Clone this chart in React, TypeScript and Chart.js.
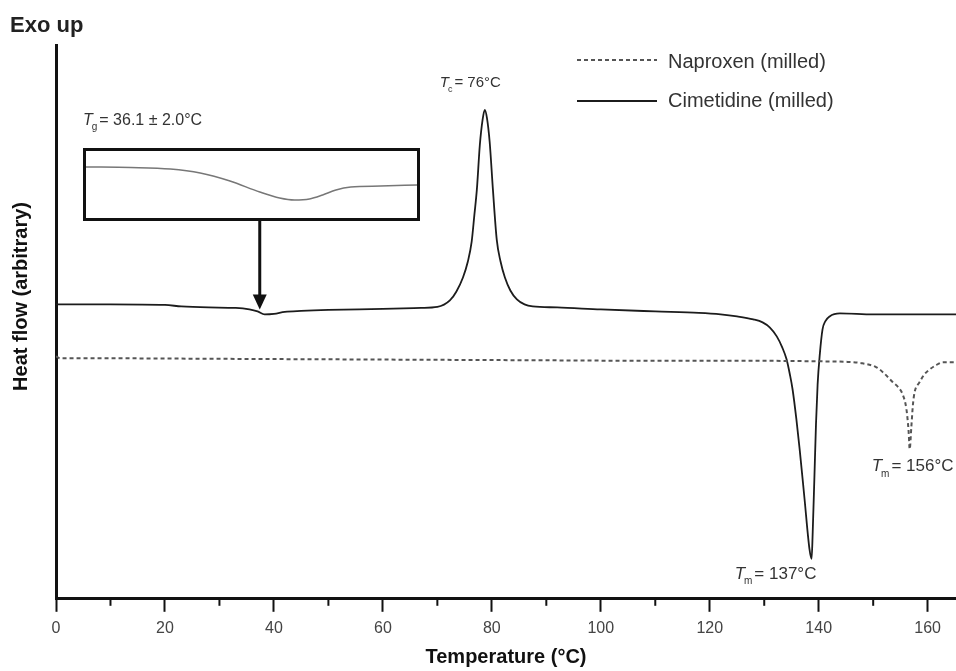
import { useEffect, useRef } from "react";
import { Chart, registerables } from "chart.js";

Chart.register(...registerables);

const FONT = "'Liberation Sans', Arial, Helvetica, sans-serif";

// Temperature axis ticks (°C): every 10 marked, every 20 labelled
const X_TICKS = [0, 10, 20, 30, 40, 50, 60, 70, 80, 90, 100, 110, 120, 130, 140, 150, 160];
const X_LABEL_STEP = 20;
const X_MAX = 165.2;
const Y_MAX = 555;

// Cimetidine (milled) DSC trace — heat flow in arbitrary units
const CIM_TEMP = [
  0, 10, 20, 23, 28, 33, 35.5, 37, 38.3, 40, 42, 45, 50, 60, 67, 70,
  72.3, 73.5, 74.7, 75.6, 76.3, 76.8, 77.25, 77.8, 78.3, 78.7, 79.1, 79.6, 80.2, 80.9, 81.6, 82.4,
  83.4, 84.6, 86, 87.5, 92, 100, 110, 118, 122, 125, 128, 129.7, 131, 132.3, 133.3, 134.1,
  134.7, 135.2, 135.9, 136.5, 137.4, 138.3, 138.7, 138.9, 139.2, 139.5, 139.8, 140.2, 140.7, 141.2,
  142.0, 143.9, 150, 158, 165.2,
];
const CIM_HEAT = [
  295, 295, 294.5, 293, 292, 291.5, 290, 288, 285, 285.5, 287.5, 288.5, 289.5, 290.5, 291.5, 292.5,
  299, 308, 322, 338, 358, 385, 410, 455, 480, 490, 482, 458, 410, 360, 338, 322,
  309, 300, 295, 293, 292, 290, 288, 286.5, 285, 283, 280, 277, 272, 263, 252, 240,
  225, 210, 180, 150, 100, 50, 40, 67, 120, 175, 215, 245, 270, 278,
  283, 286, 285, 285, 285,
];

// Naproxen (milled) DSC trace — heat flow in arbitrary units
const NAP_TEMP = [
  0, 0.8, 10, 30, 50, 70, 90, 110, 130, 140, 145, 148, 150.6, 152, 153.6, 154.6,
  155.4, 156.1, 156.5, 156.7, 157.0, 157.3, 157.6, 158.5, 159.4, 160.4, 161.5, 162.8, 165.2,
];
const NAP_HEAT = [
  243, 241, 241, 240.5, 240, 239.5, 239, 238.5, 238.5, 238, 237.5, 236, 232, 226, 217, 212,
  205, 190, 168, 150, 172, 195, 207, 217, 225, 230, 234, 237, 237,
];

// Enlarged view of the glass transition region of cimetidine
const INSET_TEMP = [30, 32.7, 35.1, 36.9, 38.7, 40.5, 41.7, 42.6, 43.5, 44.3, 45.1, 46.0, 47.8, 50];
const INSET_HEAT = [51, 50.5, 49, 45, 37, 26, 20, 18, 19, 23, 28, 31, 32, 33];

// Event labels
const TG_TEXT = "= 36.1 ± 2.0°C";
const TC_TEMP = 78.7;
const TC_TEXT = "= 76°C";
const TM_CIM_TEMP = 138.7;
const TM_CIM_TEXT = "= 137°C";
const TM_NAP_TEMP = 156.7;
const TM_NAP_TEXT = "= 156°C";
const ARROW_TEMP = 37.4;
const Y_TITLE = "Heat flow (arbitrary)";
const Y_TITLE_LEVEL = 303; // heat-flow level the vertical title is centred on

const INSET_BOX = { left: 83, top: 148, width: 337, height: 73 };

const toPoints = (xs: number[], ys: number[]) => xs.map((x, i) => ({ x, y: ys[i] }));

const heatAt = (temps: number[], heats: number[], t: number) => {
  let best = 0;
  temps.forEach((v, i) => {
    if (Math.abs(v - t) < Math.abs(temps[best] - t)) best = i;
  });
  return heats[best];
};

function drawSymbol(ctx: CanvasRenderingContext2D, x: number, y: number, sub: string, rest: string, size: number) {
  ctx.textAlign = "left";
  ctx.textBaseline = "alphabetic";
  ctx.font = `italic ${size}px ${FONT}`;
  ctx.fillText("T", x, y);
  let cx = x + ctx.measureText("T").width - 1;
  ctx.font = `${Math.round(size * 0.6)}px ${FONT}`;
  ctx.fillText(sub, cx, y + size * 0.32);
  cx += ctx.measureText(sub).width + 2;
  ctx.font = `${size}px ${FONT}`;
  ctx.fillText(rest, cx, y);
}

const annotations = {
  id: "dscAnnotations",
  afterDraw(chart: any) {
    const { ctx, scales, chartArea } = chart;
    const xs = scales.x;
    const ys = scales.y;
    ctx.save();

    // minor ticks on the temperature axis
    ctx.strokeStyle = "#111";
    ctx.lineWidth = 2;
    X_TICKS.filter((v) => v % X_LABEL_STEP !== 0).forEach((v) => {
      const px = xs.getPixelForValue(v);
      ctx.beginPath();
      ctx.moveTo(px, chartArea.bottom);
      ctx.lineTo(px, chartArea.bottom + 7);
      ctx.stroke();
    });

    ctx.fillStyle = "#222";
    ctx.font = `bold 22px ${FONT}`;
    ctx.textAlign = "left";
    ctx.textBaseline = "alphabetic";
    ctx.fillText("Exo up", 10, 32);

    // vertical axis title
    ctx.save();
    ctx.translate(21, ys.getPixelForValue(Y_TITLE_LEVEL));
    ctx.rotate(-Math.PI / 2);
    ctx.fillStyle = "#111";
    ctx.font = `bold 20px ${FONT}`;
    ctx.textAlign = "center";
    ctx.textBaseline = "middle";
    ctx.fillText(Y_TITLE, 0, 0);
    ctx.restore();

    // legend
    const lx0 = 577;
    const lx1 = 657;
    ctx.lineWidth = 2;
    ctx.strokeStyle = "#555";
    ctx.setLineDash([4, 3]);
    ctx.beginPath();
    ctx.moveTo(lx0, 60);
    ctx.lineTo(lx1, 60);
    ctx.stroke();
    ctx.setLineDash([]);
    ctx.strokeStyle = "#1c1c1c";
    ctx.beginPath();
    ctx.moveTo(lx0, 101);
    ctx.lineTo(lx1, 101);
    ctx.stroke();
    ctx.fillStyle = "#333";
    ctx.font = `20px ${FONT}`;
    ctx.fillText("Naproxen (milled)", 668, 68);
    ctx.fillText("Cimetidine (milled)", 668, 107);

    // event labels
    ctx.fillStyle = "#333";
    drawSymbol(ctx, INSET_BOX.left, 125, "g", TG_TEXT, 16);
    const tcX = xs.getPixelForValue(TC_TEMP);
    const tcY = ys.getPixelForValue(heatAt(CIM_TEMP, CIM_HEAT, TC_TEMP));
    drawSymbol(ctx, tcX - 45, tcY - 23, "c", TC_TEXT, 15);
    const tmX = xs.getPixelForValue(TM_CIM_TEMP);
    const tmY = ys.getPixelForValue(heatAt(CIM_TEMP, CIM_HEAT, TM_CIM_TEMP));
    drawSymbol(ctx, tmX - 77, tmY + 20, "m", TM_CIM_TEXT, 17);
    const tnX = xs.getPixelForValue(TM_NAP_TEMP);
    const tnY = ys.getPixelForValue(heatAt(NAP_TEMP, NAP_HEAT, TM_NAP_TEMP));
    drawSymbol(ctx, tnX - 38, tnY + 22, "m", TM_NAP_TEXT, 17);

    // arrow from the enlarged view down to the glass transition
    const ax = xs.getPixelForValue(ARROW_TEMP);
    const tipY = ys.getPixelForValue(heatAt(CIM_TEMP, CIM_HEAT, ARROW_TEMP)) - 2;
    const topY = INSET_BOX.top + INSET_BOX.height;
    ctx.strokeStyle = "#111";
    ctx.fillStyle = "#111";
    ctx.lineWidth = 3;
    ctx.beginPath();
    ctx.moveTo(ax, topY);
    ctx.lineTo(ax, tipY - 12);
    ctx.stroke();
    ctx.beginPath();
    ctx.moveTo(ax - 7, tipY - 15);
    ctx.lineTo(ax + 7, tipY - 15);
    ctx.lineTo(ax, tipY);
    ctx.closePath();
    ctx.fill();

    ctx.restore();
  },
};

export default function App() {
  const mainRef = useRef<HTMLCanvasElement>(null);
  const insetRef = useRef<HTMLCanvasElement>(null);

  useEffect(() => {
    if (!mainRef.current || !insetRef.current) return;

    const main = new Chart(mainRef.current, {
      type: "line",
      data: {
        datasets: [
          {
            label: "Naproxen (milled)",
            data: toPoints(NAP_TEMP, NAP_HEAT),
            borderColor: "#555",
            borderWidth: 2,
            borderDash: [4, 3],
            pointRadius: 0,
            cubicInterpolationMode: "monotone",
            fill: false,
          },
          {
            label: "Cimetidine (milled)",
            data: toPoints(CIM_TEMP, CIM_HEAT),
            borderColor: "#1c1c1c",
            borderWidth: 1.8,
            pointRadius: 0,
            cubicInterpolationMode: "monotone",
            fill: false,
          },
        ],
      },
      options: {
        responsive: false,
        animation: false,
        events: [],
        layout: { padding: { left: 56, top: 45, right: 0, bottom: 0 } },
        plugins: { legend: { display: false }, tooltip: { enabled: false } },
        scales: {
          x: {
            type: "linear",
            min: 0,
            max: X_MAX,
            afterBuildTicks: (scale: any) => {
              scale.ticks = X_TICKS.map((value) => ({ value }));
            },
            grid: {
              display: true,
              drawOnChartArea: false,
              drawTicks: true,
              tickLength: 13,
              tickWidth: 2,
              tickColor: (c: any) =>
                c.tick && c.tick.value % X_LABEL_STEP === 0 ? "#111" : "rgba(0,0,0,0)",
            },
            border: { display: true, color: "#111", width: 3 },
            ticks: {
              autoSkip: false,
              maxRotation: 0,
              padding: 7,
              color: "#444",
              font: { family: FONT, size: 16 },
              callback: (v: any) => (Number(v) % X_LABEL_STEP === 0 ? String(v) : ""),
            },
            title: {
              display: true,
              text: "Temperature (°C)",
              color: "#111",
              font: { family: FONT, size: 20, weight: "bold" },
              padding: { top: 0, bottom: 2 },
            },
          },
          y: {
            type: "linear",
            min: 0,
            max: Y_MAX,
            display: true,
            grid: { display: false, drawTicks: false },
            border: { display: true, color: "#111", width: 3 },
            ticks: { display: false },
            title: { display: false },
          },
        },
      },
      plugins: [annotations],
    } as any);

    const inset = new Chart(insetRef.current, {
      type: "line",
      data: {
        datasets: [
          {
            data: toPoints(INSET_TEMP, INSET_HEAT),
            borderColor: "#777",
            borderWidth: 1.5,
            pointRadius: 0,
            cubicInterpolationMode: "monotone",
            fill: false,
          },
        ],
      },
      options: {
        responsive: false,
        animation: false,
        events: [],
        layout: { padding: 0 },
        plugins: { legend: { display: false }, tooltip: { enabled: false } },
        scales: {
          x: { type: "linear", min: 30, max: 50, display: false },
          y: { type: "linear", min: 0, max: 67, display: false },
        },
      },
    } as any);

    return () => {
      main.destroy();
      inset.destroy();
    };
  }, []);

  return (
    <div
      style={{
        position: "fixed",
        left: 0,
        top: 0,
        width: 956,
        height: 671,
        background: "#fff",
        overflow: "hidden",
      }}
    >
      <canvas ref={mainRef} width={956} height={671} style={{ position: "absolute", left: 0, top: 0 }} />
      <div
        style={{
          position: "absolute",
          left: INSET_BOX.left,
          top: INSET_BOX.top,
          width: INSET_BOX.width,
          height: INSET_BOX.height,
          border: "3px solid #111",
          boxSizing: "border-box",
          background: "#fff",
        }}
      >
        <canvas ref={insetRef} width={331} height={67} style={{ display: "block" }} />
      </div>
    </div>
  );
}
